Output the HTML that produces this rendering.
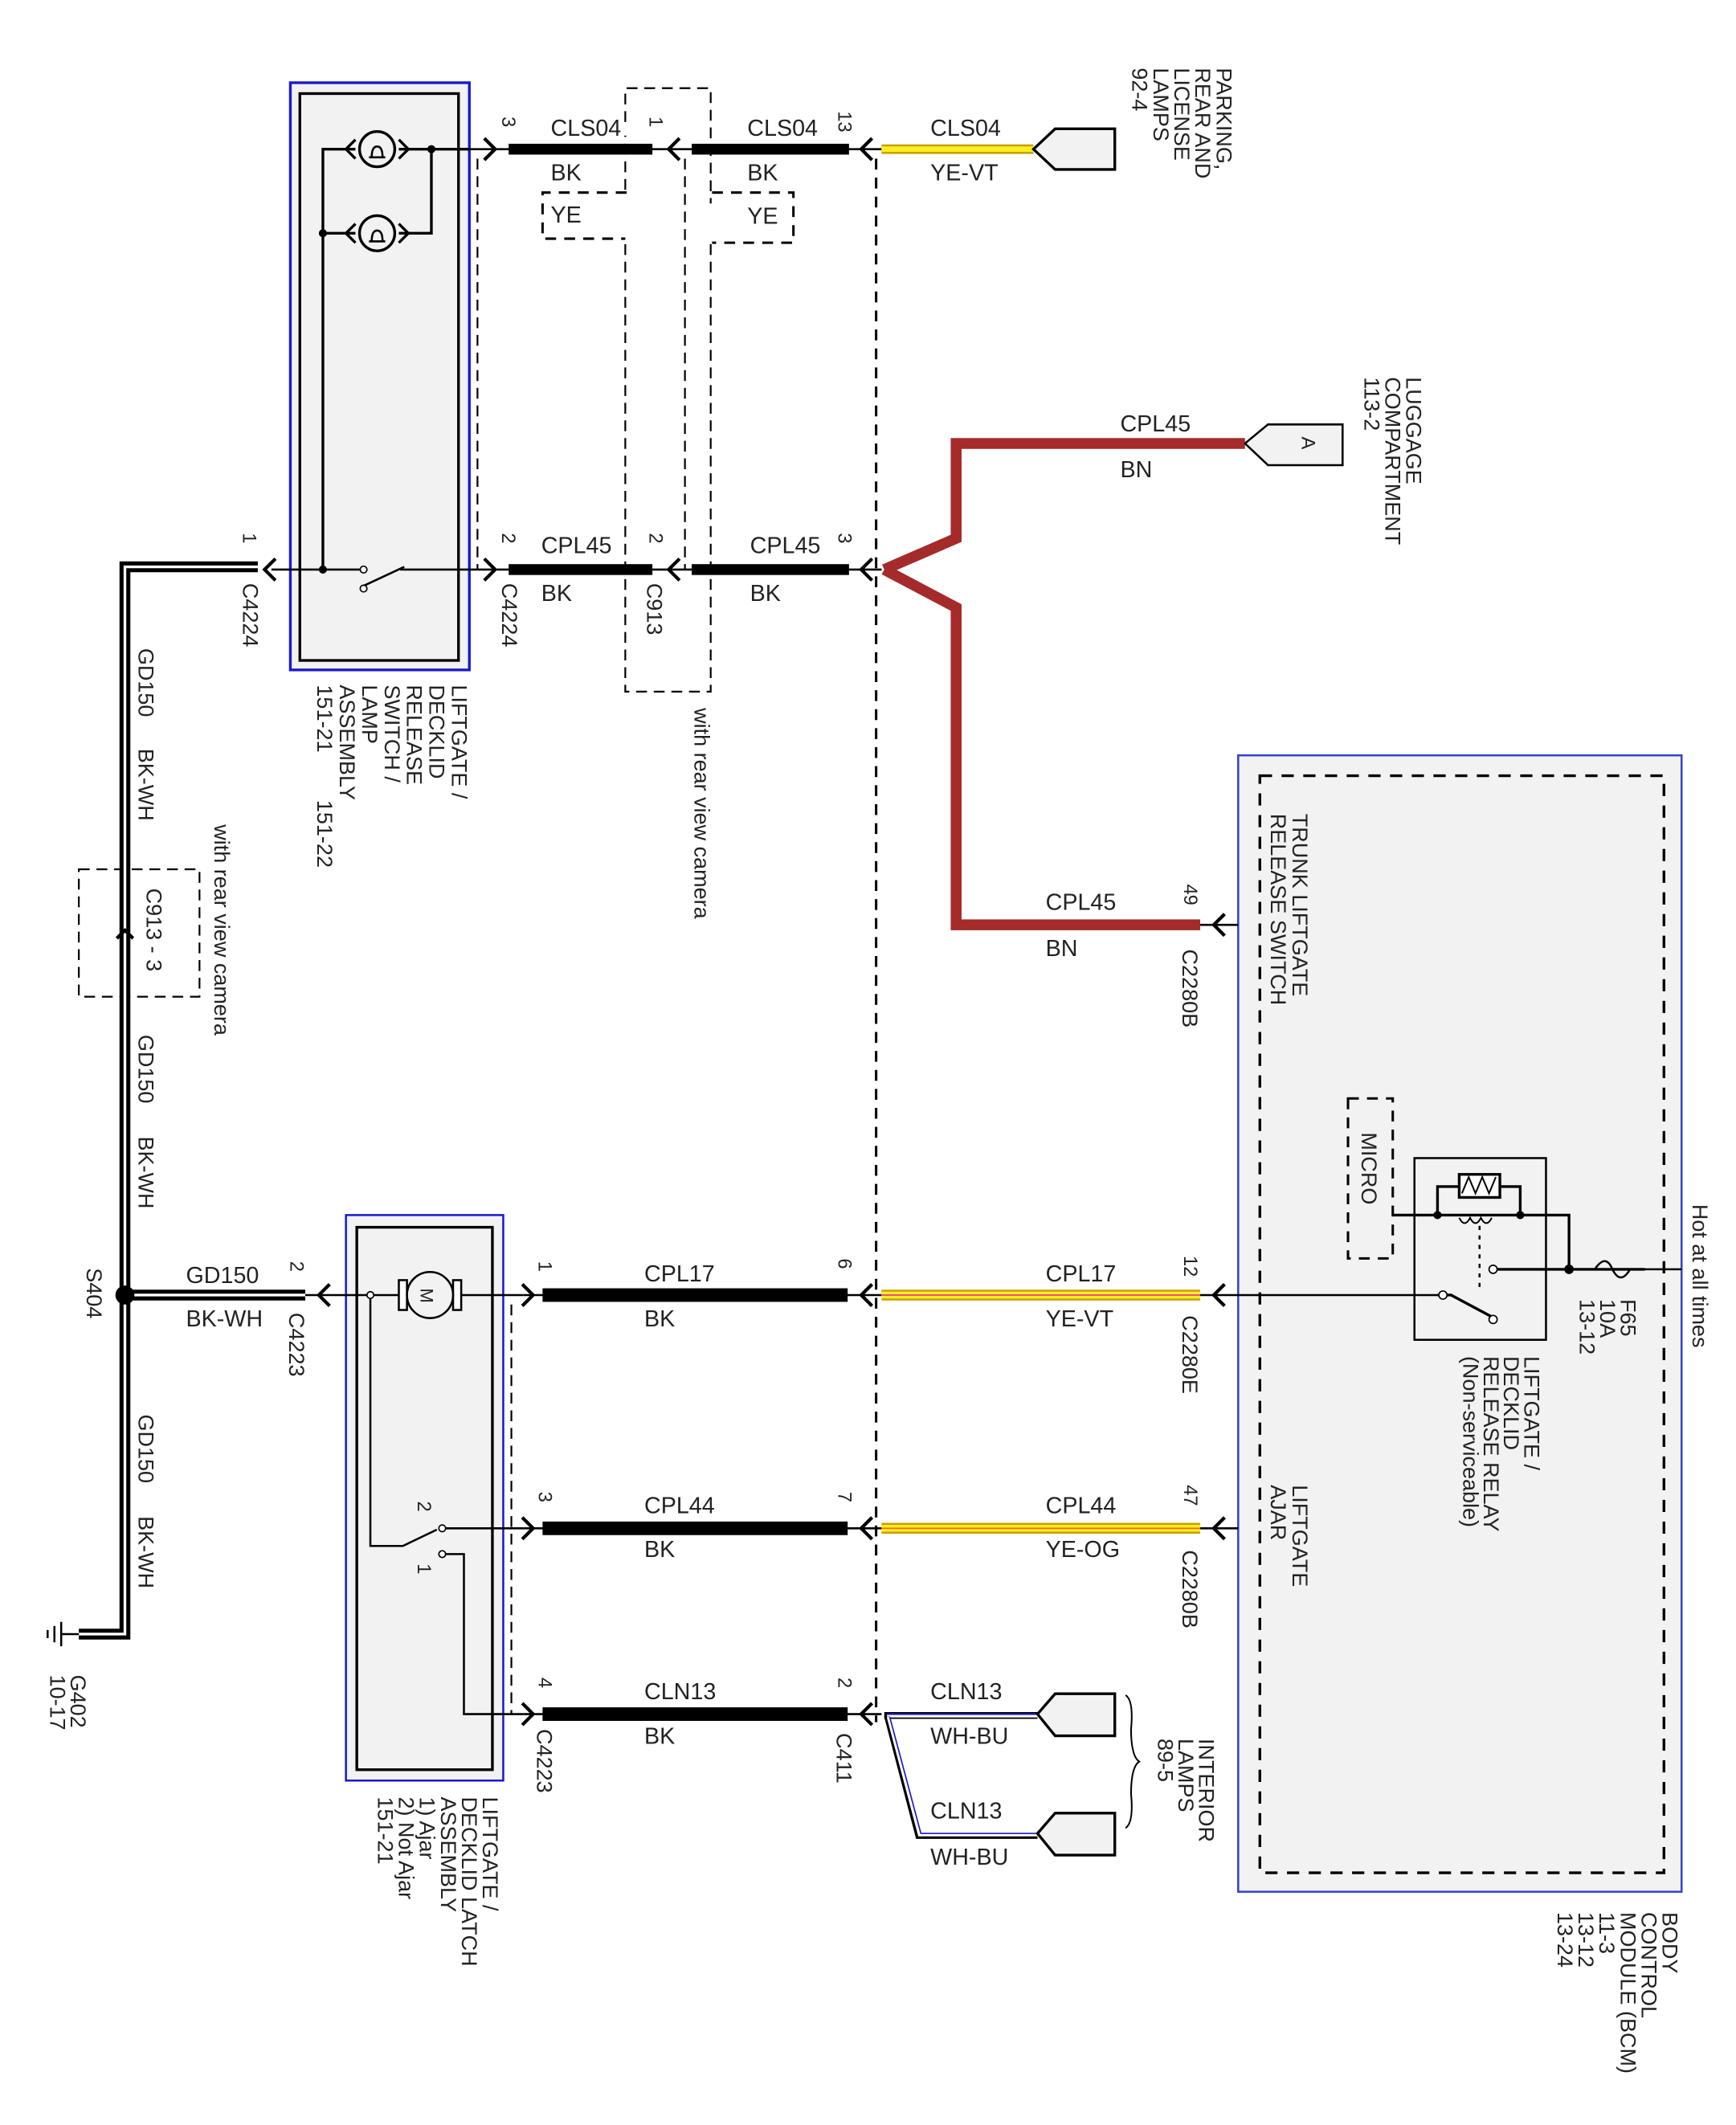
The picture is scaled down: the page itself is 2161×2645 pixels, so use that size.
<!DOCTYPE html>
<html><head><meta charset="utf-8"><style>
html,body{margin:0;padding:0;background:#fff}
svg{display:block}
text{font-family:"Liberation Sans",sans-serif;fill:#222}
</style></head><body>
<svg width="2161" height="2645" viewBox="0 0 1280 1567" xmlns="http://www.w3.org/2000/svg">
<defs>
<g id="chR"><path d="M-7,-8 L1,0 L-7,8" fill="none" stroke="#000" stroke-width="2.5"/></g>
<g id="chL"><path d="M7,-8 L-1,0 L7,8" fill="none" stroke="#000" stroke-width="2.5"/></g>
</defs>
<rect width="1280" height="1567" fill="#fff"/>

<!-- BCM -->
<rect x="913" y="557" width="327" height="838" fill="#f2f2f2" stroke="#3344cc" stroke-width="1.5"/>
<rect x="929" y="572" width="298" height="809" fill="none" stroke="#000" stroke-width="2" stroke-dasharray="9,7"/>

<!-- Box1 -->
<rect x="214" y="61" width="132" height="433" fill="#f2f2f2" stroke="#1a1acc" stroke-width="2"/>
<rect x="221" y="69" width="117" height="418" fill="#f2f2f2" stroke="#000" stroke-width="2"/>
<!-- Box2 -->
<rect x="255" y="896" width="116" height="417" fill="#f2f2f2" stroke="#1a1acc" stroke-width="1.5"/>
<rect x="263" y="905" width="100" height="400" fill="#f2f2f2" stroke="#000" stroke-width="2"/>

<!-- dashed lines -->
<g fill="none" stroke="#000" stroke-width="1.3" stroke-dasharray="8,5">
<path d="M352,117 V420"/>
<path d="M461,90 V65 H524 V150 M524,180 V510 H461 V180 M461,140 V100"/>
<path d="M505,117 V420"/>
<path d="M377,962 V1264"/>
<path d="M58,641 H147 V735 H58 Z"/>
</g>
<g fill="none" stroke="#000" stroke-width="1.8" stroke-dasharray="8,6">
<path d="M646,117 V1270"/>
<path d="M462,142 H400 V176 H461"/>
<path d="M525,142 H585 V179 H525"/>
<path d="M994,810 H1027 V928 H994 Z"/>
</g>

<!-- Box1 internals -->
<g stroke="#000" fill="none" stroke-width="2">
<path d="M238,420 V110 H262 M294,110 H346"/>
<path d="M238,172 H262 M294,172 H318 V110"/>
<circle cx="278" cy="110" r="13"/><circle cx="278" cy="172" r="13"/>
<path d="M262,103 L255,110 L262,117 M294,103 L301,110 L294,117"/>
<path d="M262,165 L255,172 L262,179 M294,165 L301,172 L294,179"/>
</g>
<g stroke="#000" stroke-width="1.5" fill="none">
<path d="M274,116 q0,-8 4,-8 q4,0 4,8 M272,116 H284"/><path d="M274,178 q0,-8 4,-8 q4,0 4,8 M272,178 H284"/>
<path d="M200,420 H268 M268,432 L298,418 M295,420 H352"/>
</g>
<circle cx="318" cy="110" r="3"/><circle cx="238" cy="172" r="3"/><circle cx="238" cy="420" r="3"/>
<circle cx="268" cy="420" r="2.5" fill="#fff" stroke="#000"/><circle cx="268" cy="434" r="2.5" fill="#fff" stroke="#000"/>

<!-- row 110 -->
<path d="M346,110 H650" stroke="#000" stroke-width="1.5"/>
<rect x="375" y="106" width="106" height="8"/><rect x="510" y="106" width="116" height="8"/>
<use href="#chR" x="364" y="110"/><use href="#chL" x="494" y="110"/><use href="#chL" x="636" y="110"/>
<path d="M650,110 H762" stroke="#c8a000" stroke-width="7"/><path d="M650,110 H762" stroke="#ffee22" stroke-width="4"/>
<path d="M762,110 L778,95 H822 V125 H778 Z" fill="#f2f2f2" stroke="#000" stroke-width="2"/>

<!-- row 420 -->
<path d="M352,420 H650" stroke="#000" stroke-width="1.5"/>
<rect x="375" y="416" width="106" height="8"/><rect x="510" y="416" width="116" height="8"/>
<use href="#chR" x="364" y="420"/><use href="#chL" x="494" y="420"/><use href="#chL" x="636" y="420"/><use href="#chL" x="196" y="420"/>
<path d="M652,420 L705,397 V327 H918 M652,420 L705,448 V682 H885" fill="none" stroke="#a52a2a" stroke-width="8"/>
<path d="M918,327 L935,313 H990 V343 H935 Z" fill="#f2f2f2" stroke="#000" stroke-width="1.5"/>
<text transform="translate(960,322) rotate(90)" font-size="14">A</text>
<use href="#chL" x="896" y="682"/><path d="M885,682 H913" stroke="#000" stroke-width="1.5"/>

<!-- ground wire -->
<path d="M190,418 H92 V1205 H58" fill="none" stroke="#000" stroke-width="8"/>
<path d="M190,418 H92 V1205 H58" fill="none" stroke="#fff" stroke-width="2"/>
<path d="M92,955 H225" stroke="#000" stroke-width="8"/><path d="M92,955 H225" stroke="#fff" stroke-width="2"/>
<circle cx="92" cy="955" r="7"/>
<path d="M86,692 L92,686 L98,692" fill="none" stroke="#000" stroke-width="2.5"/>
<path d="M45,1196 V1214 M40,1199 V1211 M35,1202 V1208 M45,1205 H58" stroke="#000" stroke-width="1.5"/>
<use href="#chL" x="236" y="955"/>

<!-- Box2 internals -->
<g stroke="#000" stroke-width="1.5" fill="none">
<path d="M225,955 H296 M337,955 H386"/>
<path d="M273,955 V1140 H297 L322,1128 M326,1127 H386"/>
<path d="M326,1146 H342 V1264 H386"/>
</g>
<rect x="294" y="944" width="6" height="22" fill="#fff" stroke="#000" stroke-width="1.5"/>
<rect x="334" y="944" width="6" height="22" fill="#fff" stroke="#000" stroke-width="1.5"/>
<circle cx="317" cy="955" r="17" fill="#f2f2f2" stroke="#000" stroke-width="1.5"/>
<text transform="translate(310,950) rotate(90)" font-size="13">M</text>
<circle cx="273" cy="955" r="2.5" fill="#fff" stroke="#000"/><circle cx="326" cy="1127" r="2.5" fill="#fff" stroke="#000"/><circle cx="326" cy="1146" r="2.5" fill="#fff" stroke="#000"/>

<!-- rows 955,1127,1264 -->
<path d="M386,955 H650 M386,1127 H650 M386,1264 H650" stroke="#000" stroke-width="1.5"/>
<rect x="400" y="950" width="225" height="10"/><rect x="400" y="1122" width="225" height="10"/><rect x="400" y="1259" width="225" height="10"/>
<use href="#chR" x="392" y="955"/><use href="#chR" x="392" y="1127"/><use href="#chR" x="392" y="1264"/>
<use href="#chL" x="636" y="955"/><use href="#chL" x="636" y="1127"/><use href="#chL" x="636" y="1264"/>
<path d="M650,955 H885 M650,1127 H885" stroke="#c8a000" stroke-width="8"/><path d="M650,955 H885 M650,1127 H885" stroke="#ffee22" stroke-width="5"/>
<path d="M650,955 H885" stroke="#e39" stroke-width="1"/><path d="M650,1127 H885" stroke="#e60" stroke-width="1"/>
<use href="#chL" x="896" y="955"/><use href="#chL" x="896" y="1127"/>
<path d="M885,955 H1060 M885,1127 H913" stroke="#000" stroke-width="1.5"/>
<!-- WH-BU -->
<g fill="none">
<path d="M652,1265 H765" stroke="#000" stroke-width="5"/><path d="M654,1265 H765" stroke="#fff" stroke-width="3"/><path d="M654,1264 H765" stroke="#1a1acc" stroke-width="1.2"/>
<path d="M654,1266 L677,1354 H765" stroke="#000" stroke-width="4"/><path d="M655,1266 L678,1353 H765" stroke="#fff" stroke-width="2.4"/><path d="M656,1266 L679,1352 H765" stroke="#1a1acc" stroke-width="1"/>
</g>
<path d="M765,1264 L778,1249 H822 V1280 H778 Z" fill="#f2f2f2" stroke="#000" stroke-width="2"/>
<path d="M765,1352 L778,1337 H822 V1368 H778 Z" fill="#f2f2f2" stroke="#000" stroke-width="2"/>
<path d="M830,1250 q6,4 4,25 q0,20 6,24 q-6,4 -6,24 q2,21 -4,25" fill="none" stroke="#000" stroke-width="1.2"/>

<!-- relay -->
<rect x="1043" y="854" width="97" height="134" fill="none" stroke="#000" stroke-width="1.5"/>
<g stroke="#000" fill="none" stroke-width="2">
<path d="M1027,896 H1157 V936"/>
<path d="M1060,896 V875 H1076 M1106,875 H1121 V896"/>
<path d="M1099,936 H1213"/>
<path d="M1060,955 H1070 L1100,971"/>
</g>
<rect x="1076" y="866" width="30" height="17" fill="#fff" stroke="#000" stroke-width="2"/>
<path d="M1078,880 L1083,868 L1088,880 L1093,868 L1098,880 L1103,868" fill="none" stroke="#000" stroke-width="1.2"/>
<path d="M1076,898 q4,8 8,0 q4,8 8,0 q4,8 8,0" fill="none" stroke="#000" stroke-width="1.2"/>
<path d="M1091,904 V950" stroke="#000" stroke-width="1.5" stroke-dasharray="3,4"/>
<circle cx="1060" cy="896" r="3"/><circle cx="1121" cy="896" r="3"/><circle cx="1157" cy="936" r="3.5"/>
<circle cx="1101" cy="936" r="3" fill="#fff" stroke="#000"/><circle cx="1064" cy="955" r="3" fill="#fff" stroke="#000"/><circle cx="1101" cy="973" r="3" fill="#fff" stroke="#000"/>
<path d="M1176,936 q8,-12 13,0 q6,12 13,0" fill="none" stroke="#000" stroke-width="1.5"/>
<path d="M1202,936 H1240" stroke="#000" stroke-width="1.5"/>

<!-- horizontal texts -->
<g font-size="17">
<text x="406" y="100">CLS04</text><text x="406" y="133">BK</text><text x="406" y="164">YE</text>
<text x="551" y="100">CLS04</text><text x="551" y="133">BK</text><text x="551" y="165">YE</text>
<text x="686" y="100">CLS04</text><text x="686" y="133">YE-VT</text>
<text x="826" y="318">CPL45</text><text x="826" y="352">BN</text>
<text x="399" y="408">CPL45</text><text x="399" y="443">BK</text>
<text x="553" y="408">CPL45</text><text x="553" y="443">BK</text>
<text x="771" y="671">CPL45</text><text x="771" y="705">BN</text>
<text x="137" y="946">GD150</text><text x="137" y="978">BK-WH</text>
<text x="475" y="945">CPL17</text><text x="475" y="978">BK</text>
<text x="771" y="945">CPL17</text><text x="771" y="978">YE-VT</text>
<text x="475" y="1116">CPL44</text><text x="475" y="1148">BK</text>
<text x="771" y="1116">CPL44</text><text x="771" y="1148">YE-OG</text>
<text x="475" y="1253">CLN13</text><text x="475" y="1286">BK</text>
<text x="686" y="1253">CLN13</text><text x="686" y="1286">WH-BU</text>
<text x="686" y="1341">CLN13</text><text x="686" y="1375">WH-BU</text>
</g>

<!-- rotated texts -->
<g font-size="16">
<text transform="translate(897,50) rotate(90)"><tspan x="0">PARKING,</tspan><tspan x="0" dy="15.5">REAR AND</tspan><tspan x="0" dy="15.5">LICENSE</tspan><tspan x="0" dy="15.5">LAMPS</tspan><tspan x="0" dy="15.5">92-4</tspan></text>
<text transform="translate(1037,278) rotate(90)"><tspan x="0">LUGGAGE</tspan><tspan x="0" dy="15.5">COMPARTMENT</tspan><tspan x="0" dy="15.5">113-2</tspan></text>
<text transform="translate(333,505) rotate(90)"><tspan x="0">LIFTGATE /</tspan><tspan x="0" dy="16.5">DECKLID</tspan><tspan x="0" dy="16.5">RELEASE</tspan><tspan x="0" dy="16.5">SWITCH /</tspan><tspan x="0" dy="16.5">LAMP</tspan><tspan x="0" dy="16.5">ASSEMBLY</tspan><tspan x="0" dy="16.5">151-21</tspan></text>
<text transform="translate(234,590) rotate(90)">151-22</text>
<text transform="translate(512,522) rotate(90)">with rear view camera</text>
<text transform="translate(158,608) rotate(90)">with rear view camera</text>
<text transform="translate(102,478) rotate(90)">GD150</text><text transform="translate(102,552) rotate(90)">BK-WH</text>
<text transform="translate(102,763) rotate(90)">GD150</text><text transform="translate(102,838) rotate(90)">BK-WH</text>
<text transform="translate(102,1043) rotate(90)">GD150</text><text transform="translate(102,1118) rotate(90)">BK-WH</text>
<text transform="translate(108,655) rotate(90)">C913 - 3</text>
<text transform="translate(64,935) rotate(90)">S404</text>
<text transform="translate(52,1235) rotate(90)"><tspan x="0">G402</tspan><tspan x="0" dy="15">10-17</tspan></text>
<text transform="translate(179,430) rotate(90)">C4224</text>
<text transform="translate(370,430) rotate(90)">C4224</text>
<text transform="translate(477,430) rotate(90)">C913</text>
<text transform="translate(953,600) rotate(90)"><tspan x="0">TRUNK LIFTGATE</tspan><tspan x="0" dy="16">RELEASE SWITCH</tspan></text>
<text transform="translate(872,700) rotate(90)">C2280B</text>
<text transform="translate(872,970) rotate(90)">C2280E</text>
<text transform="translate(872,1143) rotate(90)">C2280B</text>
<text transform="translate(1004,835) rotate(90)">MICRO</text>
<text transform="translate(1248,888) rotate(90)">Hot at all times</text>
<text transform="translate(1195,958) rotate(90)"><tspan x="0">F65</tspan><tspan x="0" dy="15">10A</tspan><tspan x="0" dy="15">13-12</tspan></text>
<text transform="translate(1124,1000) rotate(90)"><tspan x="0">LIFTGATE /</tspan><tspan x="0" dy="15">DECKLID</tspan><tspan x="0" dy="15">RELEASE RELAY</tspan><tspan x="0" dy="15">(Non-serviceable)</tspan></text>
<text transform="translate(953,1095) rotate(90)"><tspan x="0">LIFTGATE</tspan><tspan x="0" dy="16">AJAR</tspan></text>
<text transform="translate(213,968) rotate(90)">C4223</text>
<text transform="translate(396,1275) rotate(90)">C4223</text>
<text transform="translate(617,1278) rotate(90)">C411</text>
<text transform="translate(884,1282) rotate(90)"><tspan x="0">INTERIOR</tspan><tspan x="0" dy="15">LAMPS</tspan><tspan x="0" dy="15">89-5</tspan></text>
<text transform="translate(356,1325) rotate(90)"><tspan x="0">LIFTGATE /</tspan><tspan x="0" dy="15.5">DECKLID LATCH</tspan><tspan x="0" dy="15.5">ASSEMBLY</tspan><tspan x="0" dy="15.5">1) Ajar</tspan><tspan x="0" dy="15.5">2) Not Ajar</tspan><tspan x="0" dy="15.5">151-21</tspan></text>
<text transform="translate(1226,1410) rotate(90)"><tspan x="0">BODY</tspan><tspan x="0" dy="15.5">CONTROL</tspan><tspan x="0" dy="15.5">MODULE (BCM)</tspan><tspan x="0" dy="15.5">11-3</tspan><tspan x="0" dy="15.5">13-12</tspan><tspan x="0" dy="15.5">13-24</tspan></text>
</g>
<g font-size="14">
<text transform="translate(370,86) rotate(90)">3</text>
<text transform="translate(479,86) rotate(90)">1</text>
<text transform="translate(618,82) rotate(90)">13</text>
<text transform="translate(370,393) rotate(90)">2</text>
<text transform="translate(479,393) rotate(90)">2</text>
<text transform="translate(618,393) rotate(90)">3</text>
<text transform="translate(179,393) rotate(90)">1</text>
<text transform="translate(873,652) rotate(90)">49</text>
<text transform="translate(214,930) rotate(90)">2</text>
<text transform="translate(397,930) rotate(90)">1</text>
<text transform="translate(618,928) rotate(90)">6</text>
<text transform="translate(873,926) rotate(90)">12</text>
<text transform="translate(397,1100) rotate(90)">3</text>
<text transform="translate(618,1100) rotate(90)">7</text>
<text transform="translate(873,1095) rotate(90)">47</text>
<text transform="translate(397,1237) rotate(90)">4</text>
<text transform="translate(618,1237) rotate(90)">2</text>
<text transform="translate(308,1107) rotate(90)">2</text>
<text transform="translate(308,1153) rotate(90)">1</text>
</g>
</svg>
</body></html>
